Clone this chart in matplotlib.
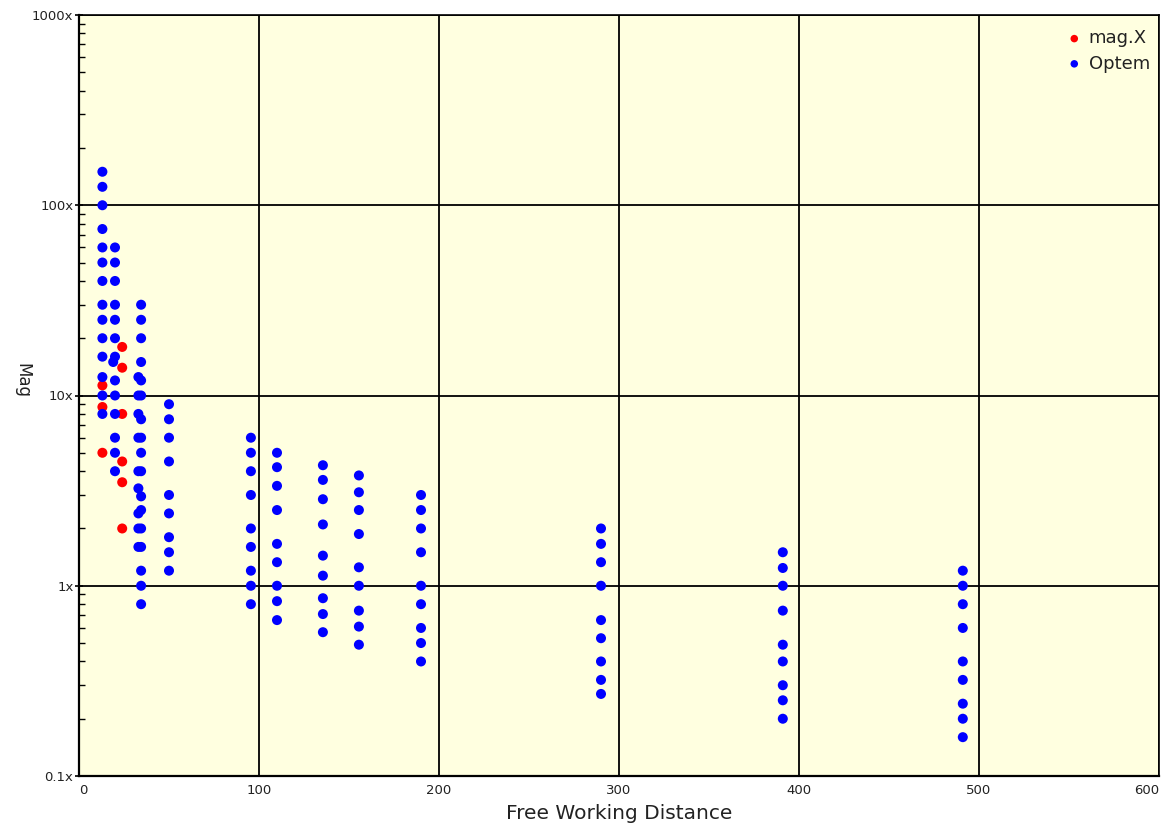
import matplotlib
matplotlib.use("Agg")
import matplotlib.pyplot as plt
from matplotlib.ticker import FixedLocator, LogLocator, NullFormatter

# mag.X objectives: free working distance (mm) and magnification
magx_fwd = [13, 13, 13, 24, 24, 24, 24, 24, 24]
magx_mag = [11.3, 8.7, 5.0, 18, 14, 8.0, 4.5, 3.5, 2.0]

# Optem objectives, grouped by working distance column
optem_groups = {
    13:    [150, 125, 100, 75, 60, 50, 40, 30, 25, 20, 16, 12.5, 10, 8],
    19:    [15],
    20:    [60, 50, 40, 30, 25, 20, 16, 12, 10, 8, 6, 5, 4],
    33:    [12.5, 10, 8, 6, 4, 3.25, 2.4, 2, 1.6],
    34.5:  [30, 25, 20, 15, 12, 10, 7.5, 6, 5, 4, 2.95, 2.5, 2, 1.6, 1.2, 1, 0.8],
    50:    [9, 7.5, 6, 4.5, 3, 2.4, 1.8, 1.5, 1.2],
    95.5:  [6, 5, 4, 3, 2, 1.6, 1.2, 1, 0.8],
    110:   [5, 4.2, 3.35, 2.5, 1.66, 1.33, 1, 0.83, 0.66],
    135.5: [4.3, 3.6, 2.85, 2.1, 1.44, 1.13, 0.86, 0.71, 0.57],
    155.5: [3.8, 3.1, 2.5, 1.87, 1.25, 1, 0.74, 0.61, 0.49],
    190:   [3, 2.5, 2, 1.5, 1, 0.8, 0.6, 0.5, 0.4],
    290:   [2, 1.66, 1.33, 1, 0.66, 0.53, 0.4, 0.32, 0.27],
    391:   [1.5, 1.24, 1, 0.74, 0.49, 0.4, 0.3, 0.25, 0.2],
    491:   [1.2, 1, 0.8, 0.6, 0.4, 0.32, 0.24, 0.2, 0.16],
}
optem_fwd = [fwd for fwd, mags in optem_groups.items() for _ in mags]
optem_mag = [m for mags in optem_groups.values() for m in mags]

x_ticks = [0, 100, 200, 300, 400, 500, 600]
y_ticks = [0.1, 1, 10, 100, 1000]
y_tick_labels = ["0.1x", "1x", "10x", "100x", "1000x"]

plt.rcParams["font.family"] = ["DejaVu Sans"]
text_color = "#222222"

fig = plt.figure(figsize=(11.62, 8.32), dpi=100)
ax = fig.add_axes([79 / 1162, 56 / 832, 1080 / 1162, 761 / 832])
ax.set_facecolor("#FFFFE0")

ax.scatter(magx_fwd, magx_mag, s=52, color="#FF0000", edgecolors="none",
           label="mag.X", zorder=3)
ax.scatter(optem_fwd, optem_mag, s=52, color="#0000FF", edgecolors="none",
           label="Optem", zorder=4)

ax.set_yscale("log")
ax.set_xlim(0, 600)
ax.set_ylim(0.1, 1000)

ax.xaxis.set_major_locator(FixedLocator(x_ticks))
ax.set_xticklabels([str(t) for t in x_ticks])
ax.yaxis.set_major_locator(FixedLocator(y_ticks))
ax.set_yticklabels(y_tick_labels)
ax.yaxis.set_minor_locator(LogLocator(base=10, subs=range(2, 10)))
ax.yaxis.set_minor_formatter(NullFormatter())

ax.grid(True, which="major", color="black", linewidth=1.3)
ax.set_axisbelow(True)

ax.tick_params(axis="y", which="major", direction="inout", length=6,
               width=1.2, labelsize=9.5, pad=1)
ax.tick_params(axis="y", which="minor", direction="in", length=4,
               width=1.0)
ax.tick_params(axis="x", which="major", direction="in", length=0,
               labelsize=9.5, pad=6)
for t in ax.get_yticklabels() + ax.get_xticklabels():
    t.set_color(text_color)
xlabels = ax.get_xticklabels()
xlabels[0].set_horizontalalignment("left")
xlabels[-1].set_horizontalalignment("right")

for side in ["left", "bottom"]:
    ax.spines[side].set_linewidth(1.6)
for side in ["top", "right"]:
    ax.spines[side].set_linewidth(1.2)

ax.set_xlabel("Free Working Distance", fontsize=14.5, color=text_color,
              labelpad=5)
ax.set_ylabel("Mag", fontsize=12, color=text_color, rotation=270,
              va="center")
ax.yaxis.set_label_coords(-0.052, 0.52)

leg = ax.legend(loc="upper right", bbox_to_anchor=(1.0, 0.993),
                frameon=False, fontsize=13, markerscale=0.75,
                handletextpad=0.4, borderaxespad=0.2, borderpad=0.3,
                labelspacing=0.4, handlelength=0.8)
for t in leg.get_texts():
    t.set_color(text_color)

fig.savefig("out.png", dpi=100, facecolor="white")
